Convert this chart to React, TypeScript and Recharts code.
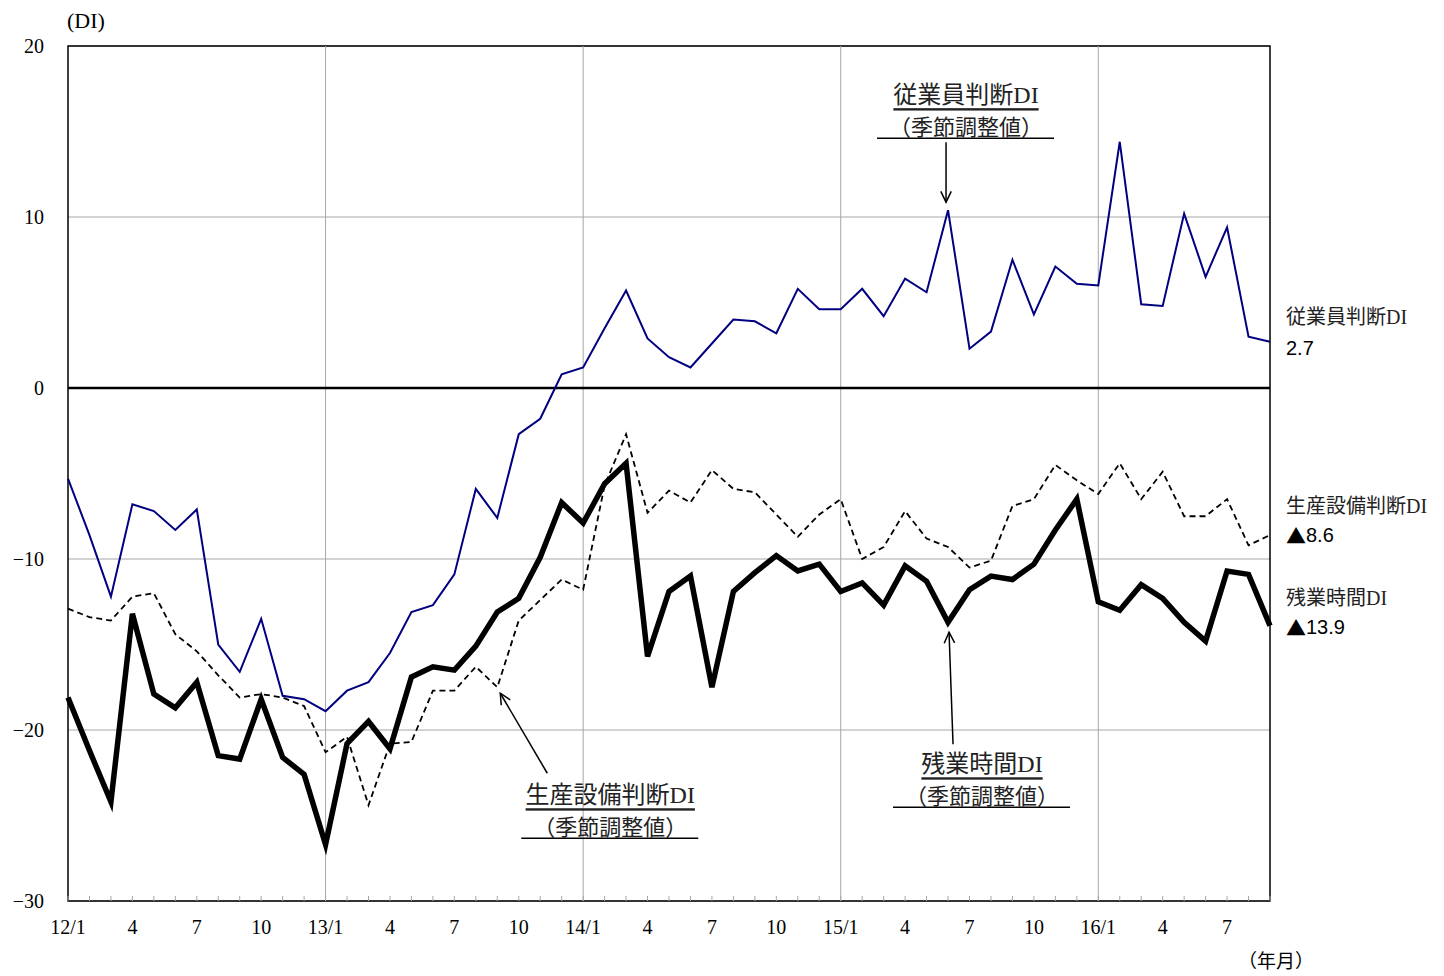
import {
  LineChart,
  Line,
  XAxis,
  YAxis,
  CartesianGrid,
  ReferenceLine,
  ReferenceArea,
  ReferenceDot,
  LabelList,
} from 'recharts'

const months = [
  '12/1', '12/2', '12/3', '12/4', '12/5', '12/6', '12/7', '12/8', '12/9', '12/10', '12/11', '12/12',
  '13/1', '13/2', '13/3', '13/4', '13/5', '13/6', '13/7', '13/8', '13/9', '13/10', '13/11', '13/12',
  '14/1', '14/2', '14/3', '14/4', '14/5', '14/6', '14/7', '14/8', '14/9', '14/10', '14/11', '14/12',
  '15/1', '15/2', '15/3', '15/4', '15/5', '15/6', '15/7', '15/8', '15/9', '15/10', '15/11', '15/12',
  '16/1', '16/2', '16/3', '16/4', '16/5', '16/6', '16/7', '16/8', '16/9',
]

// 従業員判断DI
const employeeDI = [
  -5.3, -8.6, -12.2, -6.8, -7.2, -8.3, -7.1, -15.0, -16.6, -13.5, -18.0, -18.2,
  -18.9, -17.7, -17.2, -15.5, -13.1, -12.7, -10.9, -5.9, -7.6, -2.7, -1.8, 0.8,
  1.2, 3.5, 5.7, 2.9, 1.8, 1.2, 2.6, 4.0, 3.9, 3.2, 5.8, 4.6,
  4.6, 5.8, 4.2, 6.4, 5.6, 10.4, 2.3, 3.3, 7.5, 4.3, 7.1, 6.1,
  6.0, 14.4, 4.9, 4.8, 10.2, 6.5, 9.4, 3.0, 2.7,
]

// 生産設備判断DI
const equipmentDI = [
  -12.9, -13.4, -13.6, -12.2, -12.0, -14.4, -15.4, -16.8, -18.1, -17.9, -18.1, -18.6,
  -21.3, -20.4, -24.4, -20.8, -20.7, -17.7, -17.7, -16.3, -17.5, -13.6, -12.4, -11.2,
  -11.8, -5.7, -2.7, -7.3, -6.0, -6.7, -4.8, -5.9, -6.1, -7.4, -8.7, -7.4,
  -6.5, -10.0, -9.3, -7.2, -8.8, -9.3, -10.5, -10.1, -6.9, -6.5, -4.5, -5.4,
  -6.2, -4.4, -6.5, -4.9, -7.5, -7.5, -6.5, -9.2, -8.6,
]

// 残業時間DI
const overtimeDI = [
  -18.1, -21.2, -24.2, -13.2, -17.9, -18.7, -17.2, -21.5, -21.7, -18.2, -21.6, -22.6,
  -26.7, -20.8, -19.5, -21.1, -16.9, -16.3, -16.5, -15.1, -13.1, -12.3, -9.9, -6.7,
  -7.9, -5.6, -4.4, -15.7, -11.9, -11.0, -17.5, -11.9, -10.8, -9.8, -10.7, -10.3,
  -11.9, -11.4, -12.7, -10.4, -11.3, -13.7, -11.8, -11.0, -11.2, -10.3, -8.3, -6.5,
  -12.5, -13.0, -11.5, -12.3, -13.7, -14.8, -10.7, -10.9, -13.9,
]

const yTicks = [-30, -20, -10, 0, 10, 20]
const yearStarts = ['13/1', '14/1', '15/1', '16/1']
const labelledMonths = ['1', '4', '7', '10']

const data = months.map((m, i) => ({
  month: m,
  employee: employeeDI[i],
  equipment: equipmentDI[i],
  overtime: overtimeDI[i],
}))

const SERIF = "'Liberation Serif', 'Noto Sans CJK JP', serif"
const SANS = "'Liberation Sans', 'DejaVu Sans', sans-serif"
const CJK = "'Noto Sans CJK JP', sans-serif"
const GRID = '#a6a6a6'

function MonthTick(props: any) {
  const { x, y, payload } = props
  const [yy, mm] = String(payload.value).split('/')
  const text = mm === '1' ? `${yy}/1` : labelledMonths.includes(mm) ? mm : ''
  return (
    <g>
      <line x1={x} y1={y} x2={x} y2={y - 5} stroke={GRID} />
      {text && (
        <text x={x} y={y + 26} textAnchor="middle" dominantBaseline="central" fontFamily={SERIF} fontSize={20} fill="#000">
          {text}
        </text>
      )}
    </g>
  )
}

function endLabel(name: string, nameDy: number, valueDy: number) {
  return (props: any) => {
    const { x, y, index, value } = props
    if (index !== months.length - 1) return null
    const v = Number(value)
    return (
      <g>
        <text x={x + 16} y={y + nameDy} dominantBaseline="central" fontFamily={SERIF} fontSize={20} fill="#222">
          {name}
        </text>
        <text x={x + 16} y={y + valueDy} dominantBaseline="central" fontFamily={SANS} fontSize={20} fill="#000">
          {v < 0 && <tspan fontFamily={CJK}>▲</tspan>}
          {Math.abs(v).toFixed(1)}
        </text>
      </g>
    )
  }
}

interface CalloutOpts {
  title: string
  from: [number, number]
  tip: [number, number]
  textDx: number
  textDy: number
  line: [number, number, number]
}

function callout(o: CalloutOpts) {
  return (props: any) => {
    const { cx, cy } = props
    const x1 = cx + o.from[0]
    const y1 = cy + o.from[1]
    const x2 = cx + o.tip[0]
    const y2 = cy + o.tip[1]
    const ang = Math.atan2(y2 - y1, x2 - x1)
    const head = 12
    const spread = 0.45
    const hx1 = x2 - head * Math.cos(ang - spread)
    const hy1 = y2 - head * Math.sin(ang - spread)
    const hx2 = x2 - head * Math.cos(ang + spread)
    const hy2 = y2 - head * Math.sin(ang + spread)
    const tx = cx + o.textDx
    const ty = cy + o.textDy
    return (
      <g>
        <line x1={x1} y1={y1} x2={x2} y2={y2} stroke="#000" strokeWidth={1.5} />
        <polyline points={`${hx1},${hy1} ${x2},${y2} ${hx2},${hy2}`} fill="none" stroke="#000" strokeWidth={1.5} />
        <text x={tx} y={ty} textAnchor="middle" dominantBaseline="central" fontFamily={SERIF} fontSize={24} fill="#222" textDecoration="underline">
          {o.title}
        </text>
        <text x={tx} y={ty + 32} textAnchor="middle" dominantBaseline="central" fontFamily={SERIF} fontSize={22} fill="#222">
          （季節調整値）
        </text>
        <line x1={cx + o.line[0]} y1={cy + o.line[2]} x2={cx + o.line[1]} y2={cy + o.line[2]} stroke="#000" strokeWidth={1.5} />
      </g>
    )
  }
}

export default function App() {
  return (
    <div style={{ position: 'absolute', left: 0, top: 0, width: 1444, height: 976 }}>
      <div style={{ position: 'absolute', left: 67, top: 8, fontFamily: SERIF, fontSize: 22, lineHeight: '26px' }}>(DI)</div>
      <div style={{ position: 'absolute', left: 1238, top: 949, fontFamily: SERIF, fontSize: 19, lineHeight: '26px', whiteSpace: 'nowrap' }}>（年月）</div>
      <LineChart
        width={1444}
        height={976}
        data={data}
        margin={{ top: 46, right: 174, bottom: 35, left: 8 }}
        style={{ fontFamily: SERIF }}
      >
        <CartesianGrid vertical={false} stroke={GRID} />
        <XAxis
          dataKey="month"
          interval={0}
          tick={<MonthTick />}
          tickLine={false}
          tickSize={0}
          tickMargin={0}
          axisLine={false}
          height={40}
        />
        <YAxis
          domain={[-30, 20]}
          ticks={yTicks}
          width={60}
          tickLine={false}
          tickSize={0}
          tickMargin={24}
          axisLine={false}
          tick={{ fontSize: 20, fill: '#000', fontFamily: SERIF }}
          tickFormatter={(v: number) => (v < 0 ? `−${Math.abs(v)}` : `${v}`)}
        />
        {yearStarts.map((m) => (
          <ReferenceLine key={m} x={m} stroke={GRID} />
        ))}
        <ReferenceLine y={0} stroke="#000" strokeWidth={2.5} />
        <ReferenceArea x1={months[0]} x2={months[months.length - 1]} y1={-30} y2={20} fill="none" stroke="#000" strokeWidth={1.5} />

        <Line
          dataKey="employee"
          stroke="#000080"
          strokeWidth={2}
          dot={false}
          isAnimationActive={false}
        >
          <LabelList dataKey="employee" content={endLabel('従業員判断DI', -25, 6)} />
        </Line>
        <Line
          dataKey="equipment"
          stroke="#000"
          strokeWidth={1.8}
          strokeDasharray="6 4"
          dot={false}
          isAnimationActive={false}
        >
          <LabelList dataKey="equipment" content={endLabel('生産設備判断DI', -29, 0)} />
        </Line>
        <Line
          dataKey="overtime"
          stroke="#000"
          strokeWidth={5.5}
          strokeLinejoin="miter"
          dot={false}
          isAnimationActive={false}
        >
          <LabelList dataKey="overtime" content={endLabel('残業時間DI', -28, 1)} />
        </Line>

        <ReferenceDot
          x="15/6"
          y={employeeDI[41]}
          r={0}
          shape={callout({ title: '従業員判断DI', from: [-2, -68], tip: [-2, -8], textDx: 18, textDy: -115, line: [-71, 106, -72] })}
        />
        <ReferenceDot
          x="13/9"
          y={equipmentDI[20]}
          r={0}
          shape={callout({ title: '生産設備判断DI', from: [50, 86], tip: [3, 6], textDx: 113, textDy: 108, line: [24, 201, 151] })}
        />
        <ReferenceDot
          x="15/6"
          y={overtimeDI[41]}
          r={0}
          shape={callout({ title: '残業時間DI', from: [5, 122], tip: [1, 10], textDx: 34, textDy: 142, line: [-55, 122, 185] })}
        />
      </LineChart>
    </div>
  )
}
